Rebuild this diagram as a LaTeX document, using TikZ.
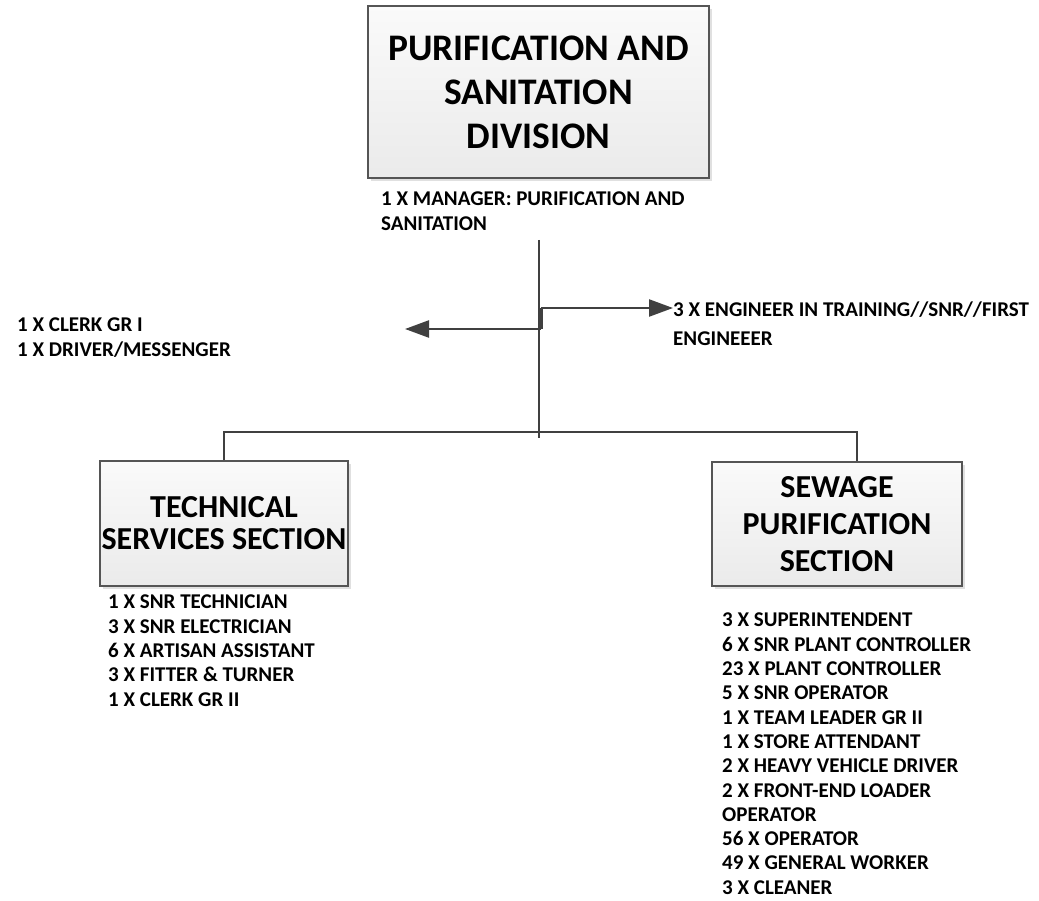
\documentclass[tikz,border=0pt]{standalone}
\usepackage{fontspec}
\setmainfont{Carlito}
\usepackage{tikz}
\usetikzlibrary{positioning,%
  arrows.meta,%
  shadows,%
  calc%
}
\definecolor{linegray}{HTML}{404040}
\definecolor{boxline}{HTML}{555555}

\tikzset{
  unitbox/.style={draw=boxline, line width=1.2pt, top color=black!2, bottom color=black!8,
    drop shadow={shadow xshift=3pt, shadow yshift=-3pt, fill=black!12, opacity=1},
    align=center, font=\bfseries, inner sep=0pt},
  staff/.style={anchor=north west, align=left, inner sep=0pt,
    font=\fontsize{21}{24.3}\selectfont\bfseries},
  link/.style={draw=linegray, line width=2.4pt},
  pointer/.style={link, -{Triangle[length=24pt, width=17pt]}}
}

\begin{document}
\begin{tikzpicture}[x=1pt, y=-1pt]
            \useasboundingbox (0,0) rectangle (1039,901);
            % division and sections
            \node[unitbox, minimum width=341pt, minimum height=172pt,
              font=\fontsize{37.5}{44}\selectfont\bfseries] (psd) at (538.5,92)
              {PURIFICATION AND\\SANITATION\\DIVISION};
            \node[unitbox, minimum width=248pt, minimum height=125pt,
              font=\fontsize{32}{32}\selectfont\bfseries] (tss) at (224,523.5)
              {TECHNICAL\\SERVICES SECTION};
            \node[unitbox, minimum width=250pt, minimum height=124pt,
              font=\fontsize{32}{37}\selectfont\bfseries] (sps) at (837,524)
              {SEWAGE\\PURIFICATION\\SECTION};

            % staff lists
            \node[staff] (mgr) at (381,192) {1 X MANAGER: PURIFICATION AND\\SANITATION};
            \node[staff] (clerks) at (17,318) {1 X CLERK GR I\\1 X DRIVER/MESSENGER};
            \node[staff, font=\fontsize{21}{29}\selectfont\bfseries] (eng) at (673,302)
              {3 X ENGINEER IN TRAINING//SNR//FIRST\\ENGINEEER};
            \node[staff] (tsslist) at (108,595) {1 X SNR TECHNICIAN\\3 X SNR ELECTRICIAN\\6 X ARTISAN ASSISTANT\\3 X FITTER \& TURNER\\1 X CLERK GR II};
            \node[staff] (spslist) at (722,613) {3 X SUPERINTENDENT\\6 X SNR PLANT CONTROLLER\\23 X PLANT CONTROLLER\\5 X SNR OPERATOR\\1 X TEAM LEADER GR II\\1 X STORE ATTENDANT\\2 X HEAVY VEHICLE DRIVER\\2 X FRONT-END LOADER\\OPERATOR\\56 X OPERATOR\\49 X GENERAL WORKER\\3 X CLEANER};

            % connectors
            \coordinate (trunktop) at (539,240);
            \coordinate (trunkend) at (539,438);
            \coordinate (barR) at (857,432);
            \coordinate (jr) at (541,308);
            \coordinate (jl) at (541,329);
            \coordinate (clerktip) at (405,329);
            \coordinate (engtip) at (673,308);

            \draw[link] (trunktop) -- (trunkend);
            \draw[link] (tss.north) |- (barR) -- (barR |- sps.north);
            \draw[link, line width=3.4pt] (jr) -- (jl);
            \draw[pointer] (jl) -- (clerktip);
            \draw[pointer] (jr) -- (engtip);
        \end{tikzpicture}
\end{document}
